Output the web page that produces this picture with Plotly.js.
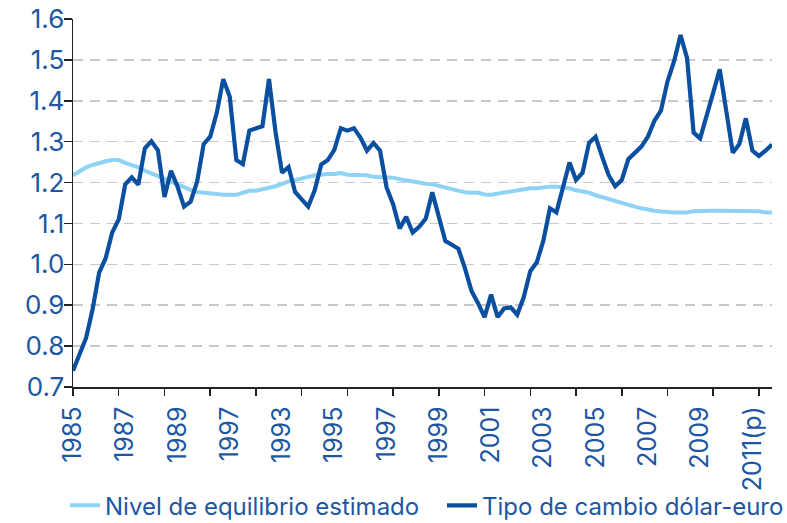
<!DOCTYPE html>
<html>
<head>
<meta charset="utf-8">
<script src="https://cdn.plot.ly/plotly-3.0.1.min.js"></script>
<style>html,body{margin:0;padding:0;background:#fff;}#chart{width:787px;height:523px;}</style>
</head>
<body>
<div id="chart"></div>
<script>
// Quarterly categories 1985 T1 .. 2011 T4
var years = [1985,1986,1987,1988,1989,1990,1991,1992,1993,1994,1995,1996,1997,1998,1999,2000,2001,2002,2003,2004,2005,2006,2007,2008,2009,2010,2011];
var quarters = [];
years.forEach(function(y){ ["T1","T2","T3","T4"].forEach(function(q){ quarters.push(y + " " + q); }); });

// Tick labels as printed on the original (including its "1997" at the 1991 position)
var labelCats = ["1985 T1","1987 T1","1989 T1","1991 T1","1993 T1","1995 T1","1997 T1","1999 T1","2001 T1","2003 T1","2005 T1","2007 T1","2009 T1","2011 T1"];
var labelText = ["1985","1987","1989","1997","1993","1995","1997","1999","2001","2003","2005","2007","2009","2011(p)"];
// Tick marks every 7 quarters, as in the original
var tickCats = ["1985 T1","1986 T4","1988 T3","1990 T2","1992 T1","1993 T4","1995 T3","1997 T2","1999 T1","2000 T4","2002 T3","2004 T2","2006 T1","2007 T4","2009 T3","2011 T2"];

var equilibrio = [
1.218,1.228,1.237,1.243,1.248,1.252,1.255,1.255,1.248,1.243,1.237,1.229,1.222,1.215,1.208,1.201,
1.194,1.188,1.182,1.177,1.176,1.175,1.172,1.170,1.170,1.170,1.175,1.180,1.180,1.183,1.187,1.191,
1.197,1.203,1.206,1.209,1.214,1.218,1.220,1.221,1.221,1.223,1.219,1.218,1.218,1.218,1.214,1.214,
1.214,1.212,1.208,1.206,1.204,1.200,1.197,1.196,1.192,1.188,1.186,1.181,1.176,1.175,1.175,1.171,
1.170,1.173,1.176,1.178,1.180,1.184,1.186,1.186,1.189,1.190,1.190,1.188,1.186,1.181,1.178,1.175,
1.169,1.164,1.159,1.154,1.149,1.145,1.141,1.137,1.133,1.131,1.129,1.127,1.127,1.127,1.127,1.130,
1.131,1.131,1.131,1.131,1.131,1.131,1.131,1.131,1.131,1.130,1.127,1.127];

var dolarEuro = [
0.740,0.780,0.820,0.890,0.980,1.015,1.078,1.110,1.196,1.213,1.195,1.284,1.301,1.279,1.165,1.229,
1.190,1.141,1.153,1.202,1.294,1.312,1.370,1.453,1.410,1.255,1.245,1.327,1.332,1.338,1.453,1.324,
1.224,1.238,1.177,1.158,1.141,1.181,1.244,1.255,1.280,1.333,1.327,1.333,1.310,1.278,1.297,1.278,
1.188,1.147,1.088,1.116,1.078,1.092,1.112,1.176,1.120,1.057,1.048,1.038,0.990,0.935,0.905,0.871,
0.926,0.871,0.892,0.895,0.877,0.920,0.983,1.005,1.058,1.137,1.127,1.190,1.249,1.206,1.224,1.297,
1.312,1.263,1.218,1.191,1.206,1.257,1.273,1.288,1.312,1.351,1.376,1.447,1.496,1.561,1.504,1.322,
1.308,1.360,1.420,1.477,1.377,1.273,1.294,1.357,1.278,1.265,1.278,1.293];

var yTicks = [0.7,0.8,0.9,1.0,1.1,1.2,1.3,1.4,1.5,1.6];
var yTickText = ["0.7","0.8","0.9","1.0","1.1","1.2","1.3","1.4","1.5","1.6"];

var FONT = "Inter, 'Open Sans', sans-serif";
var BLUE_TXT = "#1d56a3";

var traces = [
  {x: quarters, y: equilibrio, type: "scatter", mode: "lines", name: "Nivel de equilibrio estimado",
   line: {color: "#8ed3f5", width: 4}, xaxis: "x", yaxis: "y", legend: "legend"},
  {x: quarters, y: dolarEuro, type: "scatter", mode: "lines", name: "Tipo de cambio dólar-euro",
   line: {color: "#0b4fa0", width: 4.2}, xaxis: "x2", yaxis: "y", legend: "legend2"}
];

var legendBase = {
  orientation: "h", xref: "container", yref: "container",
  xanchor: "left", y: 0.076, yanchor: "top",
  font: {family: FONT, color: BLUE_TXT, size: 24},
  itemwidth: 30, bgcolor: "rgba(0,0,0,0)"
};

var layout = {
  width: 787, height: 523,
  margin: {l: 73, r: 15, t: 19, b: 136},
  paper_bgcolor: "#fff", plot_bgcolor: "#fff",
  showlegend: true,
  font: {family: FONT, color: BLUE_TXT, size: 24},
  xaxis: {
    type: "category", categoryorder: "array", categoryarray: quarters,
    range: [0, quarters.length - 1], automargin: false,
    tickmode: "array", tickvals: labelCats, ticktext: labelText,
    tickangle: -90, ticks: "", showgrid: false, zeroline: false,
    showline: true, linecolor: "#222", linewidth: 1.5, ticklabelstandoff: 8,
    tickfont: {family: FONT, color: BLUE_TXT, size: 25}
  },
  xaxis2: {
    type: "category", categoryorder: "array", categoryarray: quarters,
    overlaying: "x", anchor: "y", side: "bottom", automargin: false,
    range: [0, quarters.length - 1],
    tickmode: "array", tickvals: tickCats, ticktext: tickCats.map(function(){return "";}),
    showticklabels: false, ticks: "outside", ticklen: 8, tickwidth: 1.5, tickcolor: "#222",
    showgrid: false, zeroline: false, showline: false
  },
  yaxis: {
    range: [0.7, 1.6], tickmode: "array", tickvals: yTicks, ticktext: yTickText,
    automargin: false,
    ticks: "outside", ticklen: 8, tickwidth: 1.5, tickcolor: "#222",
    showline: true, linecolor: "#222", linewidth: 1.5,
    showgrid: true, gridcolor: "#c9c9c9", gridwidth: 1.5, griddash: "10px,7px",
    zeroline: false, ticklabelstandoff: -6,
    tickfont: {family: FONT, color: BLUE_TXT, size: 26}
  },
  legend: Object.assign({}, legendBase, {x: 65 / 787}),
  legend2: Object.assign({}, legendBase, {x: 442 / 787})
};

Plotly.newPlot("chart", traces, layout, {displayModeBar: false, staticPlot: true});
</script>
</body>
</html>
